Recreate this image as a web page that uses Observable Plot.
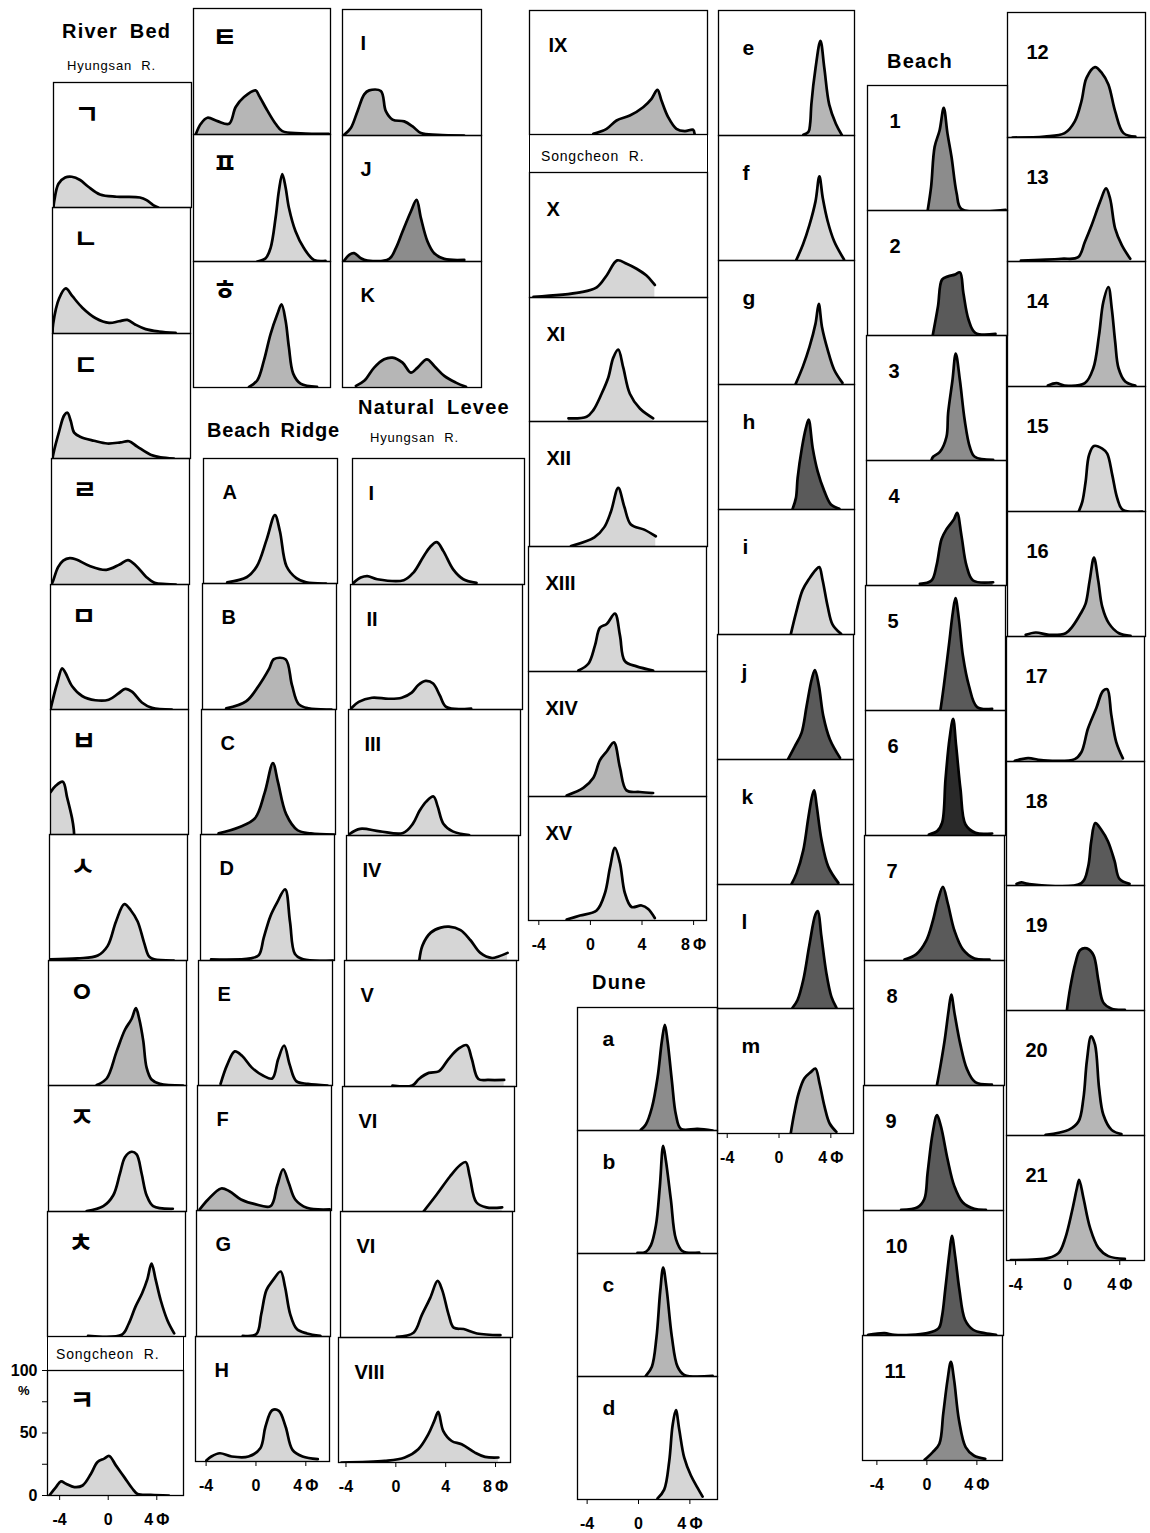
<!DOCTYPE html>
<html><head><meta charset="utf-8">
<script src="https://cdn.jsdelivr.net/npm/d3@7"></script>
<script src="https://cdn.jsdelivr.net/npm/@observablehq/plot@0.6"></script>
<style>
body{margin:0;background:#fff;}
#fig{position:relative;width:1150px;height:1533px;overflow:hidden;font-family:"Liberation Sans",Arial,sans-serif;color:#000;}
.t{position:absolute;font-weight:bold;font-size:20px;letter-spacing:1.2px;word-spacing:5px;white-space:nowrap;line-height:1;}
.s{position:absolute;font-size:13px;letter-spacing:0.8px;word-spacing:5px;white-space:nowrap;line-height:1;}
.box{position:absolute;border-left:1.3px solid #000;border-right:1.3px solid #000;box-sizing:border-box;}
</style></head><body><div id="fig"></div>
<script>
// ---------- DATA: [phi, percent of panel height] ----------
const riverBedLabels = ["ㄱ","ㄴ","ㄷ","ㄹ","ㅁ","ㅂ","ㅅ","ㅇ","ㅈ","ㅊ"];
const riverBedCurves = [
 [[-4.9,0],[-4.85,4.5],[-4.5,19],[-3.96,24],[-3.43,24.6],[-2.76,22],[-2.1,16.6],[-1.16,10.4],[0.18,8.6],[2.05,8],[2.59,5.9],[3.12,1.9],[3.52,0]],
 [[-4.9,0],[-4.85,7.5],[-4.37,27.8],[-3.83,35.8],[-3.3,29.6],[-2.5,20.5],[-1.42,12.1],[-0.35,8.4],[0.45,9.7],[1.12,10.8],[1.78,7],[2.59,3.5],[3.66,1.6],[5.0,0.5]],
 [[-4.9,0],[-4.82,4.3],[-4.37,21.5],[-3.96,34.5],[-3.7,36.6],[-3.43,30],[-3.16,20.7],[-2.63,17.2],[-1.56,14.2],[-0.49,12],[0.58,12.9],[1.25,13.8],[1.92,9.5],[2.99,3],[3.79,0.9],[4.86,0]],
 [[-4.9,0],[-4.77,3],[-4.37,13.8],[-3.96,19],[-3.43,21],[-2.9,19.8],[-1.83,14.7],[-0.49,11.6],[0.58,15.9],[1.25,19.4],[1.92,14.7],[2.72,6],[3.39,1.3],[4.32,0.4],[5.1,0]],
 [[-4.9,0],[-4.82,3.5],[-4.37,20.8],[-3.96,32.9],[-3.7,29.4],[-3.16,18.6],[-2.36,10.8],[-1.29,7.4],[-0.22,7.8],[0.58,13],[1.12,16.5],[1.65,14.3],[2.45,5.6],[3.26,1.3],[4.86,0]],
 [[-4.9,33.8],[-4.5,38.8],[-3.91,42.2],[-3.56,29.5],[-3.16,12.7],[-3.03,4.2],[-3.0,0]],
 [[-4.85,0.9],[-2.63,1.7],[-1.02,3.9],[-0.22,11.6],[0.45,31],[1.12,44.8],[1.65,39.7],[2.19,31],[2.72,13.8],[3.12,3],[3.52,0.9],[5.1,0]],
 [[-1.02,0.4],[-0.22,5.6],[0.58,27.3],[1.25,44.6],[1.78,53.2],[2.13,61.9],[2.4,53.2],[2.72,35.9],[2.99,14.3],[3.39,4.8],[4.06,1.3],[5.93,0]],
 [[-1.83,0.4],[-0.49,4.3],[0.31,12.9],[0.85,30.2],[1.25,43.1],[1.78,47.4],[2.19,45.3],[2.59,30.2],[2.99,12.9],[3.52,4.3],[5.1,2.2]],
 [[-1.64,0.5],[1.08,1.4],[1.62,10],[2.17,23.7],[2.71,34.6],[3.12,45.5],[3.47,58.3],[3.8,45.5],[4.2,29.2],[4.75,12.8],[5.29,2.5]]
];
const songcheonBedLabels = ["ㅋ"];
const songcheonBedCurves = [
 [[-4.85,0],[-4.3,6.7],[-3.89,11.3],[-3.48,9.4],[-2.79,6.7],[-2.11,8],[-1.42,17.4],[-0.88,26.8],[-0.33,29.5],[0.08,31.6],[0.63,24.1],[1.32,14.7],[2.0,5.4],[2.41,1.3],[3.5,0.5],[5.0,0]]
];
const riverBedMoreLabels = ["ㅌ","ㅍ","ㅎ"];
const riverBedMoreCurves = [
 [[-4.8,0.5],[-4.4,8.5],[-3.86,13.3],[-3.04,10.6],[-2.09,8.5],[-1.55,21.8],[-0.87,29.7],[0.08,35],[0.35,31],[1.03,19.1],[1.71,8.5],[2.26,2.7],[3.75,1],[6.06,0.5]],
 [[0.22,0],[0.9,2.6],[1.3,10.6],[1.71,34.4],[1.98,55.6],[2.26,68.8],[2.53,58.2],[2.8,42.3],[3.34,23.8],[4.02,10.6],[4.84,1.3],[5.79,0.5]],
 [[-0.46,0.5],[0.22,5.8],[0.76,21.5],[1.3,42.4],[1.85,58.1],[2.2,66],[2.53,52.9],[2.8,31.9],[3.15,11],[3.75,3.1],[5.1,0.5]]
];
const ridgeMoreLabels = ["I","J","K"];
const ridgeMoreCurves = [
 [[-4.87,0.5],[-4.33,5.9],[-3.79,19.3],[-3.25,32.6],[-2.85,35.8],[-1.91,35.3],[-1.51,19.3],[-0.97,12.6],[-0.03,11.2],[0.65,7.2],[1.32,1.9],[2.66,0.5],[4.8,0]],
 [[-4.87,0.5],[-4.46,5.3],[-4.06,6.6],[-3.52,2.6],[-2.98,0.8],[-1.24,2.1],[-0.7,10.6],[-0.16,23.8],[0.51,39.7],[0.97,48.9],[1.32,34.4],[1.85,15.9],[2.39,6.6],[3.2,2.1],[4.81,1.3]],
 [[-3.92,1.3],[-3.25,5.3],[-2.45,15.8],[-1.64,22.4],[-0.97,23.7],[-0.16,19.7],[0.51,11.8],[1.05,15.8],[1.8,22.4],[2.39,17.1],[3.2,9.2],[4.14,3.9],[4.95,0.5]]
];
const ridgeLabels = ["A","B","C","D","E","F","G","H"];
const ridgeCurves = [
 [[-2.95,0.9],[-1.36,5.2],[-0.57,13.8],[0.22,35.3],[0.88,54.7],[1.28,41.8],[1.81,13.8],[2.6,4.3],[3.39,0.9],[4.98,0]],
 [[-2.95,0.9],[-1.36,6.4],[-0.31,19.3],[0.49,32.2],[0.88,39.9],[1.81,39.9],[2.33,19.3],[2.86,4.3],[3.66,0.9],[5.5,0]],
 [[-3.48,0.9],[-1.89,5.6],[-0.57,12.9],[0.22,33.5],[0.88,57.1],[1.28,42.1],[1.94,16.3],[2.86,3.4],[3.92,0.9],[5.77,0]],
 [[-4.0,0.9],[-0.84,1.7],[-0.17,4.3],[0.22,17.9],[0.75,35],[1.28,45.7],[1.94,56.4],[2.33,30.8],[2.73,5.1],[3.39,0.9],[5.77,0]],
 [[-3.08,1.3],[-2.55,16.5],[-1.94,27.3],[-1.36,23.8],[-0.57,14.3],[0.35,7.8],[1.07,5.6],[1.54,21],[2.02,32],[2.47,16.5],[2.99,3.5],[3.92,1.3],[5.5,0]],
 [[-4.67,0.9],[-4.0,8.8],[-2.95,17.6],[-2.29,15.4],[-1.36,8.8],[-0.31,5.3],[1.01,3.5],[1.54,19.8],[2.02,33],[2.47,22],[2.99,8.8],[3.92,2.2],[5.77,0.9]],
 [[-1.14,0.5],[-0.05,1.9],[0.35,18],[0.76,36.8],[1.3,44.9],[1.9,51.6],[2.25,39.5],[2.66,18],[3.2,5.9],[4.01,2.4],[5.09,0.5]],
 [[-3.98,0.8],[-3.58,4],[-2.9,6.6],[-1.95,4],[-0.6,4],[0.35,10.6],[0.76,27.8],[1.3,41],[1.84,40.5],[2.38,27.8],[2.93,9.3],[3.74,4],[4.96,1.9]]
];
const leveeLabels = ["I","II","III","IV","V","VI","VI","VIII"];
const leveeCurves = [
 [[-4.52,1.3],[-3.94,5.5],[-3.41,6.7],[-2.61,4.2],[-0.49,3.4],[0.31,9.7],[1.1,22.3],[1.63,29.8],[2.16,33.6],[2.69,26.5],[3.49,11.8],[4.29,4.2],[5.35,1.3]],
 [[-4.52,1.2],[-3.94,6.1],[-2.88,9.4],[-1.55,8.6],[-0.49,9.4],[0.31,13.5],[0.84,19.6],[1.42,22.9],[2.03,20.8],[2.56,11.4],[3.09,2],[5.08,0.8]],
 [[-4.52,1.2],[-3.67,5.3],[-2.08,3.3],[-0.22,2],[0.57,9.4],[1.1,19.6],[1.63,26.9],[2.22,31],[2.56,22.9],[3.01,9.4],[3.76,3.3],[5.08,0.4]],
 [[1.24,0],[1.5,12.1],[2.16,22.3],[2.96,26.3],[3.62,27.1],[4.55,24.3],[5.35,16.2],[6.14,6.1],[7.07,2],[7.6,3.2],[8.32,6.1]],
 [[-0.75,0.8],[0.84,0.8],[1.37,6],[2.16,10.8],[2.96,12],[3.76,22],[4.55,30],[5.21,32.8],[5.61,22],[6.14,6],[6.94,5.2],[8.21,5.2]],
 [[1.9,0],[2.96,13.6],[4.02,28],[4.82,37],[5.29,39.5],[5.61,28],[6.14,7.4],[6.94,3.3],[8.21,3.3]],
 [[-0.08,0.5],[1.26,3.8],[1.93,18],[2.6,31.5],[3.19,44.9],[3.54,38.2],[4.08,18],[4.48,7.8],[5.28,6.7],[6.35,3.2],[8.23,1.9]],
 [[-4.37,0],[-0.88,1.3],[0.72,4],[1.8,10.6],[2.6,22.5],[3.08,33.1],[3.4,40.5],[3.81,25.1],[4.48,17.2],[5.28,14.6],[6.35,7.9],[7.16,4.5],[8.23,4]]
];
const leveeMoreLabels = ["IX"];
const leveeMoreCurves = [
 [[0.15,0.5],[1.18,4.6],[1.95,11.3],[2.98,15.3],[4.01,22],[4.66,28.8],[5.12,36],[5.43,27.4],[5.95,14],[6.59,4.6],[7.24,2.7],[7.88,3.8],[8.0,0.5]]
];
const songcheonLeveeLabels = ["X","XI","XII","XIII","XIV","XV"];
const songcheonLeveeCurves = [
 [[-4.49,0.5],[-0.88,4.1],[0.41,8.1],[1.18,17.6],[2.0,29.7],[2.73,27],[3.5,23],[4.27,17.6],[4.92,10]],
 [[-1.78,2.6],[-0.37,3.9],[0.15,9.2],[0.79,22.4],[1.31,35.5],[1.69,51.3],[2.08,57.9],[2.47,43.4],[2.98,22.4],[3.76,10.5],[4.79,2.6]],
 [[-1.58,0.4],[0.23,7.3],[1.0,15.5],[1.51,27.8],[2.08,46.9],[2.55,31.8],[3.06,17.6],[4.09,13.5],[4.99,8.2]],
 [[-0.93,0.8],[-0.16,6.2],[0.35,20.7],[0.74,35.1],[1.26,38],[1.9,46.3],[2.29,28.9],[2.67,8.3],[3.58,4.1],[4.86,0.8]],
 [[-1.84,0.8],[-0.55,6.9],[0.23,15],[0.74,29.1],[1.26,36],[1.82,43.3],[2.29,23.1],[2.8,4.9],[3.83,3.6],[4.86,2.8]],
 [[-1.84,0.8],[-0.8,4],[0.48,8.1],[1.13,22.2],[1.51,42.3],[1.9,58.5],[2.29,46.4],[2.67,22.2],[3.19,10.9],[3.96,12.1],[4.48,9.3],[4.99,2]]
];
const duneLabels = ["a","b","c","d"];
const duneCurves = [
 [[0.18,0.5],[0.57,4.9],[1.04,18.5],[1.48,42.9],[1.82,72.8],[2.05,85.9],[2.26,72.8],[2.6,40.2],[2.91,13],[3.3,1.4],[4.6,1.4],[5.77,0]],
 [[-0.08,0.5],[0.57,1.3],[0.96,6.6],[1.35,22.5],[1.66,54.4],[1.92,87.5],[2.13,75.6],[2.52,43.8],[2.91,11.9],[3.43,1.9],[4.73,0.8]],
 [[0.57,0.5],[1.04,8],[1.4,32],[1.69,69.3],[1.92,88.5],[2.18,72],[2.6,32],[3.04,8],[3.56,1.3],[5.77,0.5]],
 [[1.48,0.9],[2.0,8],[2.39,31],[2.65,60],[2.91,72.7],[3.17,57],[3.56,34],[4.08,19.5],[4.6,9.5],[4.99,2.3]]
];
const duneMoreLabels = ["e","f","g","h","i","j","k","l","m"];
const duneMoreCurves = [
 [[1.8,0.5],[2.2,3],[2.33,10],[2.42,25],[2.74,53.8],[3.12,75.8],[3.42,54],[3.8,24.7],[4.31,9.4],[4.77,0.5]],
 [[1.26,0.5],[1.77,12.8],[2.28,28.7],[2.74,47.3],[3.04,67.3],[3.3,50],[3.68,31.4],[4.18,15.4],[4.94,0.8]],
 [[1.21,0.5],[1.77,14.6],[2.28,30.5],[2.74,49.1],[2.99,65],[3.24,46.4],[3.68,27.9],[4.18,11.9],[4.82,1.3]],
 [[0.97,0.5],[1.23,9.3],[1.36,25.3],[1.69,49.3],[2.0,65.3],[2.21,72],[2.52,49.3],[2.9,30.7],[3.42,14.7],[3.93,4],[4.58,0.5]],
 [[0.84,0.5],[1.23,17.1],[1.74,35.5],[2.26,44.7],[2.77,51.8],[3.03,53.9],[3.29,43.4],[3.68,22.4],[4.06,7.9],[4.71,0.5]],
 [[0.71,0.5],[1.23,10.7],[1.74,21.3],[2.13,42.7],[2.52,64],[2.77,71.5],[3.08,58.7],[3.42,34.7],[3.93,16],[4.71,1.3]],
 [[0.97,0.5],[1.36,9.1],[1.87,27.3],[2.26,53.2],[2.57,71.4],[2.72,75.3],[2.9,63.6],[3.29,35.1],[3.8,14.3],[4.58,1.3]],
 [[1.04,0.6],[1.43,6.9],[1.88,23.4],[2.34,51],[2.81,75.8],[3.0,78.5],[3.26,59.2],[3.65,28.9],[4.04,9.6],[4.43,0.6]],
 [[0.91,0.5],[1.17,16],[1.51,32],[1.95,44],[2.47,49.3],[2.81,52],[3.13,40],[3.52,21.3],[3.91,8],[4.43,1.3]]
];
const beachLabels = ["1","2","3","4","5","6","7","8","9","10","11"];
const beachCurves = [
 [[-0.33,0.5],[-0.06,19.1],[0.22,50.9],[0.62,64.2],[0.95,82.2],[1.25,61.5],[1.57,43],[1.98,13.8],[2.38,1.1],[5.9,0.5]],
 [[0.08,0.8],[0.49,23.4],[0.81,44.7],[1.3,47.3],[1.84,48.7],[2.25,50.5],[2.52,34],[2.93,12.8],[3.47,2.1],[5.09,1.3]],
 [[0.05,0.5],[0.18,3],[0.73,7],[1.25,19],[1.38,38],[1.73,64.4],[1.99,85.6],[2.32,64.4],[2.71,32],[3.11,11],[3.51,3],[4.98,0.5]],
 [[-0.88,1.3],[0.05,4],[0.45,15.9],[0.85,37],[1.25,45],[1.84,52.9],[2.1,58.2],[2.45,39.7],[2.85,15.9],[3.38,4],[4.98,2.6]],
 [[0.85,0.5],[1.12,20],[1.52,52],[1.84,78.7],[2.05,89.9],[2.32,73.3],[2.64,44],[3.12,20],[3.78,2.7],[4.98,1.3]],
 [[-0.08,0.8],[0.58,3.5],[0.98,10.2],[1.25,45],[1.57,77.2],[1.86,93.3],[2.1,71.8],[2.45,37],[2.85,8.8],[3.65,2.1],[4.98,1.6]],
 [[-1.95,0.8],[-1.02,4.9],[-0.22,15.7],[0.32,31.9],[0.72,48.1],[1.12,58.9],[1.52,45.4],[2.05,23.8],[2.72,8.9],[3.65,1.6],[4.85,0.8]],
 [[0.65,0.5],[0.91,14.7],[1.26,36],[1.58,60],[1.79,72.8],[2.06,57.3],[2.51,33.3],[3.04,13.3],[3.71,2.7],[5.04,0.8]],
 [[-2.14,0.5],[-0.82,2.6],[-0.28,9.2],[-0.02,30.3],[0.38,61.8],[0.73,76.3],[1.05,67.1],[1.58,40.8],[2.11,19.7],[2.78,6.6],[3.71,1.3],[4.64,0.5]],
 [[-4.78,0.5],[-3.46,1.9],[-2.68,0.5],[-0.05,1.9],[0.87,5.9],[1.13,15.3],[1.39,36.8],[1.73,66.4],[1.92,79.8],[2.18,63.7],[2.52,36.8],[2.97,12.6],[3.62,4.6],[4.54,1.9],[5.46,0.5]],
 [[-0.18,0.5],[0.47,6.7],[1.0,13.4],[1.31,37.5],[1.65,64.3],[1.92,79],[2.18,64.3],[2.57,32.2],[3.1,10.7],[3.75,4],[4.67,1.3]]
];
const beachMoreLabels = ["12","13","14","15","16","17","18","19","20","21"];
const beachMoreCurves = [
 [[-4.31,0],[-1.86,0.8],[-0.31,3.5],[0.47,12.9],[0.98,29],[1.37,47.7],[2.02,56.3],[2.54,51.7],[3.05,42.4],[3.57,20.9],[4.21,3.5],[5.12,0.8]],
 [[-3.67,0.8],[-0.57,2.2],[0.73,3.5],[1.24,15.7],[1.76,29.2],[2.41,48.1],[2.87,58.9],[3.18,50.8],[3.57,26.5],[4.09,13],[4.73,2.2]],
 [[-1.6,0.8],[-0.95,2.7],[-0.31,0.8],[1.24,2.7],[1.89,14.6],[2.33,41.1],[2.66,67.6],[3.05,79.6],[3.31,62.3],[3.57,35.8],[3.83,14.6],[4.34,4],[5.12,0.8]],
 [[0.79,0.5],[1.05,7.9],[1.3,23.8],[1.56,45],[1.94,52.4],[2.58,50.3],[2.96,46.3],[3.35,29.1],[3.73,10.6],[4.16,1.3],[5.65,0]],
 [[-3.3,1.3],[-2.53,3.2],[-1.51,1.3],[-0.23,2.6],[0.28,7.9],[0.92,18.4],[1.3,26.3],[1.61,44.7],[1.94,63.2],[2.27,44.7],[2.58,23.7],[3.09,10.5],[3.86,2.6],[4.75,0.5]],
 [[-4.06,0.5],[-3.04,2.7],[-2.02,1.1],[0.54,1.9],[1.05,7.4],[1.56,26.4],[2.2,42.8],[2.71,56.4],[3.04,57.8],[3.35,37.3],[3.73,15.5],[4.24,2.5]],
 [[-3.93,1.3],[-3.55,2.6],[-3.04,1.3],[1.05,1.9],[1.56,14.6],[1.81,35.7],[2.12,50.3],[2.58,45],[3.09,35.7],[3.6,19.8],[3.98,5.3],[4.75,1.3]],
 [[-0.06,0.5],[0.2,18.5],[0.58,37.5],[0.96,48.4],[1.47,49.7],[1.98,44.3],[2.36,23.9],[2.74,6.3],[3.37,1.4],[4.39,0.5]],
 [[-1.7,0.5],[0.07,4.5],[0.83,11.2],[1.21,29.9],[1.47,59.4],[1.8,79.4],[2.1,72.7],[2.41,38],[2.74,16.6],[3.37,4.5],[4.13,1.1]],
 [[-4.37,0.3],[-1.45,2.1],[-0.69,6.1],[-0.18,18.1],[0.33,39.4],[0.71,58],[0.88,64.6],[1.21,50],[1.72,26.1],[2.36,10.1],[3.12,3.5],[4.39,1.3]]
];
const phiTicksShort = [-4, 0, 4];
const phiTicksLong = [-4, 0, 4, 8];
const percentTicks = [0, 25, 50, 75, 100];

// ---------- STYLE / LAYOUT ----------
const SHADE = ["#d6d6d6", "#b6b6b6", "#8c8c8c", "#5a5a5a", "#2a2a2a"];
const KR = "'Noto Sans CJK KR', sans-serif";
const LAT = "'Liberation Sans', Arial, sans-serif";
const groups = [
 {labels: riverBedLabels, curves: riverBedCurves, shades: [0,0,0,0,0,0,0,1,0,0], x0: 53, x1: 47, w: 138, top: 82, h: 125.4, domain: [-4.9, 6.2], dx: 21, dy: 22, font: KR, fs: 27},
 {labels: songcheonBedLabels, curves: songcheonBedCurves, shades: [0], x0: 47, x1: 47, w: 136, top: 1370, h: 125, domain: [-5, 6.2], dx: 22, dy: 20, font: KR, fs: 27, ticks: phiTicksShort, yTicks: percentTicks},
 {labels: riverBedMoreLabels, curves: riverBedMoreCurves, shades: [1,0,1], x0: 193, x1: 193, w: 137, top: 8, h: 126.3, domain: [-5, 6.2], dx: 19, dy: 19, font: KR, fs: 27},
 {labels: ridgeMoreLabels, curves: ridgeMoreCurves, shades: [1,2,1], x0: 342, x1: 342, w: 139, top: 9, h: 126, domain: [-5, 6.2], dx: 18, dy: 26, font: LAT, fs: 20},
 {labels: ridgeLabels, curves: ridgeCurves, shades: [0,1,2,0,0,1,0,0], x0: 203, x1: 195, w: 134, top: 458, h: 125.4, domain: [-4.85, 5.9], dx: 19, dy: 26, font: LAT, fs: 20, ticks: phiTicksShort},
 {labels: leveeLabels, curves: leveeCurves, shades: [0,0,0,0,0,0,0,0], x0: 352, x1: 338, w: 172, top: 458, h: 125.5, domain: [-4.6, 9.2], dx: 16, dy: 27, font: LAT, fs: 20, ticks: phiTicksLong},
 {labels: leveeMoreLabels, curves: leveeMoreCurves, shades: [1], x0: 529, x1: 529, w: 178, top: 10, h: 124, domain: [-4.8, 9.0], dx: 19, dy: 27, font: LAT, fs: 20},
 {labels: songcheonLeveeLabels, curves: songcheonLeveeCurves, shades: [0,0,0,0,1,0], x0: 529, x1: 528, w: 178, top: 172, h: 124.7, domain: [-4.8, 9.0], dx: 17, dy: 29, font: LAT, fs: 20, ticks: phiTicksLong},
 {labels: duneLabels, curves: duneCurves, shades: [2,1,1,0], x0: 577, x1: 577, w: 140, top: 1007, h: 123, domain: [-4.75, 6.15], dx: 25, dy: 24, font: LAT, fs: 21, ticks: phiTicksShort},
 {labels: duneMoreLabels, curves: duneMoreCurves, shades: [1,0,1,3,0,3,3,3,1], x0: 718, x1: 717, w: 136, top: 10, h: 124.8, domain: [-4.75, 5.75], dx: 24, dy: 30, font: LAT, fs: 21, ticks: phiTicksShort},
 {labels: beachLabels, curves: beachCurves, shades: [2,3,2,3,3,4,3,2,3,3,2], x0: 867, x1: 862, w: 140, top: 85, h: 125, domain: [-5.15, 6.05], dx: 22, dy: 28, font: LAT, fs: 20, ticks: phiTicksShort},
 {labels: beachMoreLabels, curves: beachMoreCurves, shades: [1,1,1,0,1,1,3,3,1,1], x0: 1007, x1: 1006, w: 138, top: 11.7, h: 124.8, domain: [-4.7, 5.9], dx: 19, dy: 32, font: LAT, fs: 20, ticks: phiTicksShort}
];

const fig = document.getElementById("fig");

function drawPanel(g, i) {
  const n = g.labels.length;
  const y0 = Math.round(g.top + i * g.h), y1 = Math.round(g.top + (i + 1) * g.h);
  const ph = y1 - y0;
  const left = Math.round(g.x0 + (g.x1 - g.x0) * (n > 1 ? i / (n - 1) : 0));
  const xAxis = !!g.ticks && i === n - 1;
  const yAxis = !!g.yTicks;
  const mL = yAxis ? 42 : 2, mR = 2, mT = 2, mB = xAxis ? 40 : 2;
  const pts = g.curves[i].map(([phi, pct]) => ({phi, pct}));
  const last = g.ticks ? g.ticks[g.ticks.length - 1] : null;
  const svg = Plot.plot({
    width: g.w + mL + mR, height: ph + mT + mB,
    marginLeft: mL, marginRight: mR, marginTop: mT, marginBottom: mB,
    style: {background: "transparent", overflow: "visible", fontFamily: LAT, fontSize: "16px", fontWeight: "bold", color: "#000"},
    x: {domain: g.domain, axis: xAxis ? "bottom" : null, ticks: g.ticks || [], tickSize: 5, tickPadding: 13,
        tickFormat: d => d === last ? d + "\u2009Φ" : String(d), label: null},
    y: {domain: [0, 100], axis: yAxis ? "left" : null, ticks: g.yTicks || [], tickSize: 5, tickPadding: 5,
        tickFormat: d => (d % 50 === 0 ? String(d) : ""), label: null},
    marks: [
      Plot.areaY(pts, {x: "phi", y: "pct", fill: SHADE[g.shades[i]], curve: "catmull-rom", clip: true}),
      Plot.lineY(pts, {x: "phi", y: "pct", stroke: "#000", strokeWidth: 2.7, curve: "catmull-rom", strokeLinejoin: "round", strokeLinecap: "round", clip: true}),
      Plot.frame({stroke: "#000", strokeWidth: 1.3}),
      Plot.text([g.labels[i]], {text: d => d, frameAnchor: "top-left", dx: g.dx, dy: g.dy, fontSize: g.fs, fontWeight: "bold", fontFamily: g.font, fill: "#000"})
    ]
  });
  svg.style.position = "absolute";
  svg.style.left = (left - mL) + "px";
  svg.style.top = (y0 - mT) + "px";
  fig.appendChild(svg);
}
for (const g of groups) g.labels.forEach((_, i) => drawPanel(g, i));

// ---------- titles ----------
function addText(cls, txt, x, y, extra) {
  const d = document.createElement("div");
  d.className = cls; d.textContent = txt;
  d.style.left = x + "px"; d.style.top = y + "px";
  if (extra) Object.assign(d.style, extra);
  fig.appendChild(d);
}
function addBox(x, y, w, h) {
  const d = document.createElement("div");
  d.className = "box";
  Object.assign(d.style, {left: x + "px", top: y + "px", width: w + "px", height: h + "px"});
  fig.appendChild(d);
}
addText("t", "River Bed", 62, 21);
addText("s", "Hyungsan R.", 67, 59);
addText("t", "Beach Ridge", 207, 420, {letterSpacing: "0.8px", wordSpacing: "3px"});
addText("t", "Natural Levee", 358, 397);
addText("s", "Hyungsan R.", 370, 431);
addBox(529, 134, 179, 38);
addText("s", "Songcheon R.", 541, 149, {fontSize: "14px"});
addBox(47, 1336, 137, 34);
addText("s", "Songcheon R.", 56, 1347, {fontSize: "14px"});
addText("s", "%", 18, 1384, {fontSize: "13px", fontWeight: "bold"});
addText("t", "Dune", 592, 972);
addText("t", "Beach", 887, 51);
</script></body></html>
